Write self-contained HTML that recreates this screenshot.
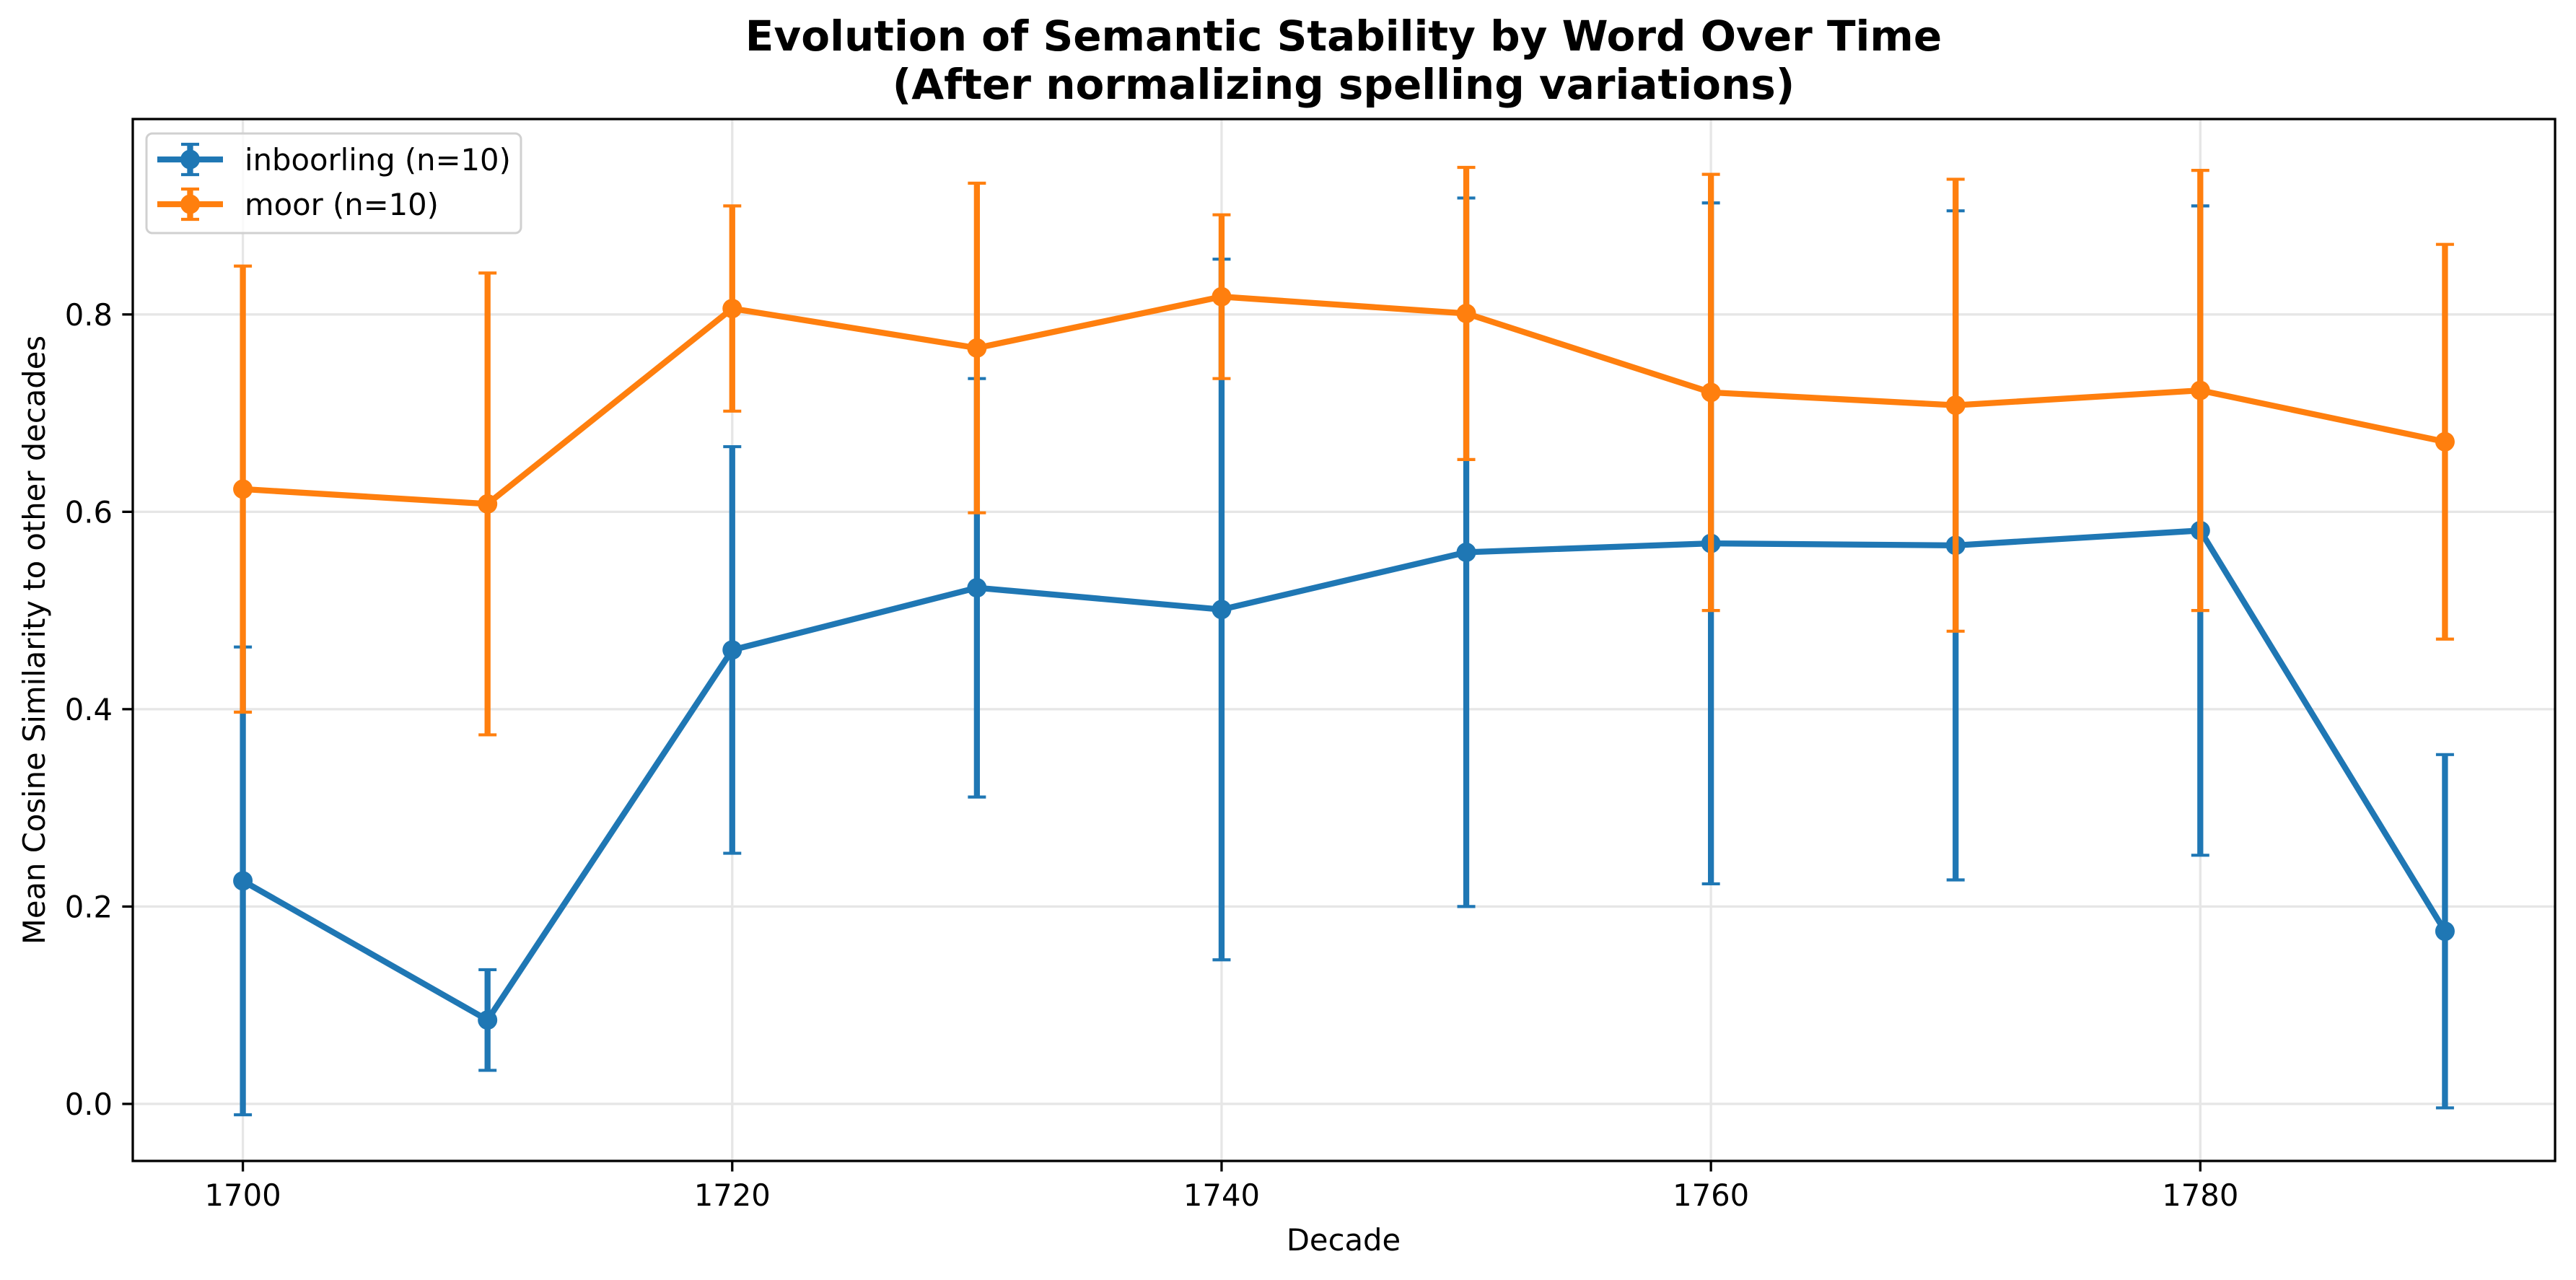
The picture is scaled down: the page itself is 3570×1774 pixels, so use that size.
<!DOCTYPE html>
<html><head><meta charset="utf-8"><style>
html,body{margin:0;padding:0;background:#fff;}
svg text{font-family:"DejaVu Sans","Liberation Sans",sans-serif;}
</style></head><body>
<svg id="chart" width="3570" height="1769" viewBox="0 0 3570 1769" xmlns="http://www.w3.org/2000/svg">
<rect x="0" y="0" width="3570" height="1769" fill="#fff"/>
<g id="grid"></g>
<g id="series"></g>
<rect x="184" y="165" width="3357" height="1444" fill="none" stroke="#000" stroke-width="3.3"/>
<g id="axes"></g>
<text x="1862" y="70" text-anchor="middle" font-size="58" font-weight="bold">Evolution of Semantic Stability by Word Over Time</text>
<text x="1862" y="137" text-anchor="middle" font-size="58" font-weight="bold">(After normalizing spelling variations)</text>
<text x="1862" y="1733" text-anchor="middle" font-size="41.7">Decade</text>
<text transform="translate(62,887) rotate(-90)" text-anchor="middle" font-size="41.7">Mean Cosine Similarity to other decades</text>
<g id="legend">
<rect x="203" y="185" width="519" height="138" rx="8" fill="#fff" fill-opacity="0.8" stroke="#d0d0d0" stroke-width="3"/>
</g>
</svg>
<script>
const decades=[1700,1710,1720,1730,1740,1750,1760,1770,1780,1790];
const inboorlingMean=[0.226,0.085,0.460,0.523,0.501,0.559,0.568,0.566,0.581,0.175];
const inboorlingErr=[0.237,0.051,0.206,0.212,0.355,0.359,0.345,0.339,0.329,0.179];
const moorMean=[0.623,0.608,0.806,0.766,0.818,0.801,0.721,0.708,0.723,0.671];
const moorErr=[0.226,0.234,0.104,0.167,0.083,0.148,0.221,0.229,0.223,0.200];
const yTicks=[0.0,0.2,0.4,0.6,0.8];
const yTickLabels=["0.0","0.2","0.4","0.6","0.8"];
const xTicks=[1700,1720,1740,1760,1780];
const xTickLabels=["1700","1720","1740","1760","1780"];
const seriesNames=["inboorling (n=10)","moor (n=10)"];

const NS="http://www.w3.org/2000/svg";
const X0=184,X1=3541,Y0=1609,Y1=165;
const xMin=1695.5,xMax=1794.5,yMin=-0.0578,yMax=0.998;
const CAPW=4.2;
function xs(v){return X0+(v-xMin)/(xMax-xMin)*(X1-X0);}
function ys(v){return Y0-(v-yMin)/(yMax-yMin)*(Y0-Y1);}
function mk(tag,attrs,parent){const e=document.createElementNS(NS,tag);for(const k in attrs)e.setAttribute(k,attrs[k]);parent.appendChild(e);return e;}
const grid=document.getElementById('grid'),axes=document.getElementById('axes'),ser=document.getElementById('series'),leg=document.getElementById('legend');

xTicks.forEach((t,i)=>{
  const x=xs(t);
  const g=mk('line',{x1:x,x2:x,y1:Y1,y2:Y0,stroke:'#e6e6e6','stroke-width':3.3},grid);
  
  
  const tk=mk('line',{x1:x,x2:x,y1:Y0,y2:Y0+14.6,stroke:'#000','stroke-width':3.3},axes);
  
  
  const tl=mk('text',{x:x,y:Y0+62,'text-anchor':'middle','font-size':41.7},axes);
  tl.textContent=xTickLabels[i];
  
  
});
yTicks.forEach((t,i)=>{
  const y=ys(t);
  const g=mk('line',{x1:X0,x2:X1,y1:y,y2:y,stroke:'#e6e6e6','stroke-width':3.3},grid);
  
  
  const tk=mk('line',{x1:X0-14.6,x2:X0,y1:y,y2:y,stroke:'#000','stroke-width':3.3},axes);
  
  
  const tl=mk('text',{x:X0-28,y:y+15,'text-anchor':'end','font-size':41.7},axes);
  tl.textContent=yTickLabels[i];
  
  
});

function drawSeries(means,errs,color,name){
  const g=mk('g',{},ser);
  
  
  means.forEach((m,i)=>{
    const x=xs(decades[i]),yh=ys(m+errs[i]),yl=ys(m-errs[i]);
    const b=mk('line',{x1:x,x2:x,y1:yh,y2:yl,stroke:color,'stroke-width':8.3},g);
    
    
    const c1=mk('line',{x1:x-12.5,x2:x+12.5,y1:yh,y2:yh,stroke:color,'stroke-width':CAPW},g);
    
    
    const c2=mk('line',{x1:x-12.5,x2:x+12.5,y1:yl,y2:yl,stroke:color,'stroke-width':CAPW},g);
    
    
  });
  const pts=means.map((m,i)=>xs(decades[i])+','+ys(m)).join(' ');
  const pl=mk('polyline',{points:pts,fill:'none',stroke:color,'stroke-width':8.3,'stroke-linejoin':'round'},g);
  
  
  means.forEach((m,i)=>{
    const p=mk('circle',{cx:xs(decades[i]),cy:ys(m),r:13.5,fill:color},g);
    
    
  });
}
drawSeries(inboorlingMean,inboorlingErr,'#1f77b4','inboorling');
drawSeries(moorMean,moorErr,'#ff7f0e','moor');

[['#1f77b4',221],['#ff7f0e',283]].forEach((d,i)=>{
  const [c,y]=d;
  const e=mk('g',{},leg);
  
  
  mk('line',{x1:218,x2:309,y1:y,y2:y,stroke:c,'stroke-width':8.3},e);
  mk('line',{x1:263.5,x2:263.5,y1:y-21,y2:y+21,stroke:c,'stroke-width':8.3},e);
  mk('line',{x1:251,x2:276,y1:y-21,y2:y-21,stroke:c,'stroke-width':CAPW},e);
  mk('line',{x1:251,x2:276,y1:y+21,y2:y+21,stroke:c,'stroke-width':CAPW},e);
  mk('circle',{cx:263.5,cy:y,r:13.5,fill:c},e);
  const t=mk('text',{x:339,y:y+15,'font-size':41.7},e);
  t.textContent=seriesNames[i];
});
</script>
</body></html>
